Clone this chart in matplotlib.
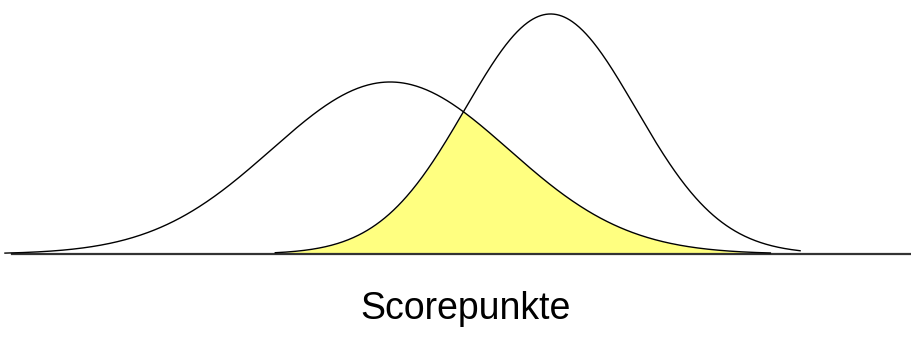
import numpy as np
import matplotlib.pyplot as plt

# two score distributions (same N, different mean / spread)
means = [50.0, 66.2]
sds = [12.0, 8.6]
ranges = [(11.1, 88.4), (38.4, 91.4)]
xlabel = "Scorepunkte"


def gauss(x, mu, sd):
    return np.exp(-0.5 * ((x - mu) / sd) ** 2) / (sd * np.sqrt(2 * np.pi))


fig = plt.figure(figsize=(9.11, 3.37), dpi=100)
ax = fig.add_axes([0, 0, 1, 1])
ax.set_xlim(10.6, 102.6)
ax.set_ylim(-0.01604, 0.04909)
ax.axis("off")

# overlap area = min of both curves
xs = np.linspace(ranges[1][0], ranges[0][1], 600)
overlap = np.minimum(gauss(xs, means[0], sds[0]), gauss(xs, means[1], sds[1]))
ax.fill_between(xs, 0, overlap, color="#ffff80", lw=0, zorder=1)

for (lo, hi), mu, sd in zip(ranges, means, sds):
    x = np.linspace(lo, hi, 600)
    ax.plot(x, gauss(x, mu, sd), color="black", lw=1.0, zorder=3)

ax.plot([11.8, 102.6], [0, 0], color="#333333", lw=1.6, zorder=2)

ax.text(57.6, -0.01256, xlabel, ha="center", va="baseline",
        fontsize=27, family="Liberation Sans")

fig.savefig("out.png", dpi=100)
